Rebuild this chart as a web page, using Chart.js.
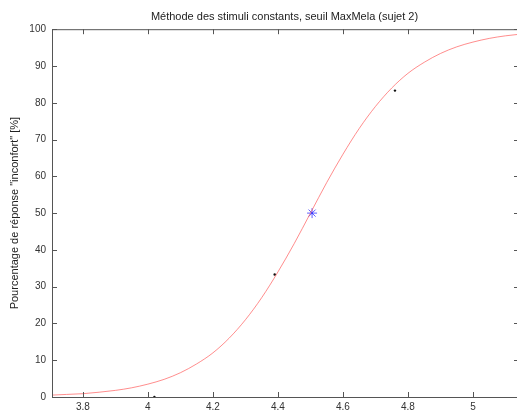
<!DOCTYPE html>
<html>
<head>
<meta charset="utf-8">
<script src="https://cdn.jsdelivr.net/npm/chart.js@4"></script>
<style>
  html, body { margin: 0; padding: 0; background: #fff; overflow: hidden; }
  canvas { display: block; }
</style>
</head>
<body>
<canvas id="psyChart" width="517" height="415"></canvas>
<script>
// === Data ===
const curveX = [3.70, 3.75, 3.80, 3.85, 3.90, 3.95, 4.00, 4.05, 4.10, 4.15, 4.20, 4.25, 4.30, 4.35, 4.40,
                4.45, 4.50, 4.55, 4.60, 4.65, 4.70, 4.75, 4.80, 4.85, 4.90, 4.95, 5.00, 5.05, 5.10, 5.15];
const curveY = [0.5, 0.7, 0.9, 1.3, 1.8, 2.5, 3.5, 4.8, 6.6, 9.0, 12.0, 16.0, 21.0, 27.0, 34.0,
                41.7, 50.0, 58.3, 66.0, 73.0, 79.0, 84.0, 88.0, 91.0, 93.4, 95.2, 96.5, 97.5, 98.2, 98.7];
const obsX = [4.02, 4.39, 4.76];
const obsY = [0, 33.3, 83.3];
const thresholdX = [4.505];
const thresholdY = [50];
const xTicks = [3.8, 4, 4.2, 4.4, 4.6, 4.8, 5];
const yTicks = [0, 10, 20, 30, 40, 50, 60, 70, 80, 90, 100];

const toPoints = (xs, ys) => xs.map((x, i) => ({ x: x, y: ys[i] }));

// === Box and inward ticks, Matlab style (right edge sits just off the picture) ===
const matlabAxes = {
  id: "matlabAxes",
  afterDraw(chart) {
    const { ctx, chartArea: a, scales } = chart;
    const rightEdge = a.right + 2;
    ctx.save();
    ctx.strokeStyle = "#555";
    ctx.lineWidth = 1;
    ctx.beginPath();
    ctx.moveTo(rightEdge, a.top + 0.5); ctx.lineTo(a.left + 0.5, a.top + 0.5);
    ctx.lineTo(a.left + 0.5, a.bottom + 0.5); ctx.lineTo(rightEdge, a.bottom + 0.5);
    xTicks.forEach(v => {
      const px = Math.round(scales.x.getPixelForValue(v)) + 0.5;
      ctx.moveTo(px, a.bottom); ctx.lineTo(px, a.bottom - 5);
      ctx.moveTo(px, a.top); ctx.lineTo(px, a.top + 5);
    });
    yTicks.forEach(v => {
      const py = Math.round(scales.y.getPixelForValue(v)) + 0.5;
      ctx.moveTo(a.left, py); ctx.lineTo(a.left + 5, py);
      ctx.moveTo(rightEdge, py); ctx.lineTo(rightEdge - 5, py);
    });
    ctx.stroke();
    ctx.restore();
  }
};

const ctx = document.getElementById("psyChart").getContext("2d");
Chart.defaults.font.family = "'Liberation Sans', Arial, sans-serif";

new Chart(ctx, {
  type: "scatter",
  data: {
    datasets: [
      {
        label: "fit",
        data: toPoints(curveX, curveY),
        showLine: true,
        borderColor: "rgba(255, 80, 80, 0.65)",
        borderWidth: 1,
        pointRadius: 0,
        cubicInterpolationMode: "monotone",
        fill: false
      },
      {
        label: "observed",
        data: toPoints(obsX, obsY),
        showLine: false,
        pointRadius: 1.2,
        backgroundColor: "#111",
        borderColor: "#111",
        borderWidth: 0
      },
      {
        label: "threshold",
        data: toPoints(thresholdX, thresholdY),
        showLine: false,
        pointStyle: "star",
        pointRadius: 5,
        borderColor: "rgba(40, 40, 255, 0.75)",
        borderWidth: 1
      }
    ]
  },
  options: {
    responsive: false,
    animation: false,
    layout: { padding: 0, autoPadding: false },
    plugins: {
      legend: { display: false },
      tooltip: { enabled: false },
      title: {
        display: true,
        fullSize: false,
        text: "Méthode des stimuli constants, seuil MaxMela (sujet 2)",
        color: "#222",
        font: { size: 11, weight: "normal" },
        padding: { top: 10, bottom: 6 }
      }
    },
    scales: {
      x: {
        type: "linear",
        min: 3.705,
        max: 5.1354,
        grid: { display: false, drawTicks: false },
        border: { display: false },
        afterBuildTicks: s => { s.ticks = xTicks.map(v => ({ value: v })); },
        afterFit: s => { s.height = 18; s.paddingLeft = 0; s.paddingRight = 0; },
        ticks: {
          color: "#333",
          font: { size: 10 },
          padding: 4,
          maxRotation: 0,
          callback: v => String(v)
        }
      },
      y: {
        min: 0,
        max: 100,
        grid: { display: false, drawTicks: false },
        border: { display: false },
        afterBuildTicks: s => { s.ticks = yTicks.map(v => ({ value: v })); },
        afterFit: s => { s.width = 52; s.paddingTop = 0; s.paddingBottom = 0; },
        ticks: { color: "#333", font: { size: 10 }, padding: 6 },
        title: {
          display: true,
          text: "Pourcentage de réponse \"inconfort\" [%]",
          color: "#222",
          font: { size: 11 },
          padding: { top: 8, bottom: 0 }
        }
      }
    }
  },
  plugins: [matlabAxes]
});
</script>
</body>
</html>
